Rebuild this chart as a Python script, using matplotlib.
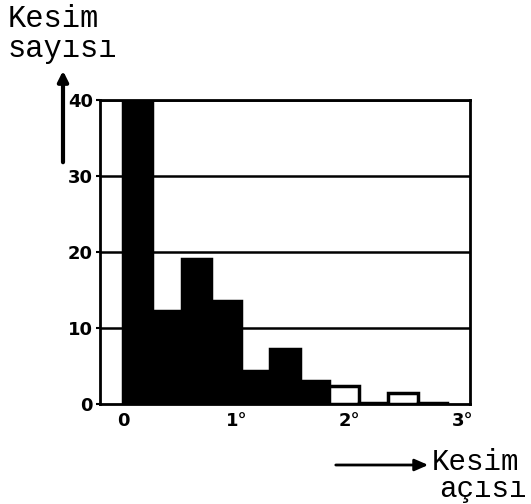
import matplotlib
matplotlib.use("Agg")
import matplotlib.pyplot as plt

# Data
bin_left = [0.0, 0.26, 0.52, 0.78, 1.04, 1.30, 1.56, 1.82, 2.08, 2.34, 2.60]
bin_width = 0.26
counts = [40, 12.3, 19.1, 13.6, 4.4, 7.3, 3.0, 2.4, 0.1, 1.5, 0.1]
hollow = [False, False, False, False, False, False, False, True, False, True, False]
y_ticks = [0, 10, 20, 30, 40]
y_labels = ["0", "10", "20", "30", "40"]
x_ticks = [0, 1, 2, 3]
x_labels = ["0", "1°", "2°", "3°"]

fig = plt.figure(figsize=(5.31, 5.04), dpi=100)
ax = fig.add_axes([100/531, 1-404/504, 370/531, 304/504])

for x, h, hol in zip(bin_left, counts, hollow):
    ax.bar(x, h, width=bin_width, align='edge',
           color='white' if hol else 'black', edgecolor='black',
           linewidth=2.5, zorder=3)

for y in y_ticks[1:]:
    ax.axhline(y, color='black', lw=1.8, zorder=1)

ax.set_xlim(-0.203, 3.063)
ax.set_ylim(0, 40)
for s in ax.spines.values():
    s.set_linewidth(2)
ax.set_yticks(y_ticks)
ax.set_yticklabels(y_labels)
ax.set_xticks(x_ticks)
ax.set_xticklabels(x_labels)
for lab in ax.get_yticklabels() + ax.get_xticklabels():
    lab.set_fontfamily(['Liberation Sans Narrow', 'DejaVu Sans'])
    lab.set_fontweight('bold')
    lab.set_fontsize(13)
ax.tick_params(axis='y', length=3, width=1.5, pad=2)
ax.tick_params(axis='x', length=0, width=1.5, pad=6)

mono = ['Liberation Mono', 'DejaVu Sans Mono']
fig.text(8/531, 1-27/504, "Kesim", family=mono, fontsize=22, ha='left', va='baseline')
fig.text(8/531, 1-57/504, "sayısı", family=mono, fontsize=22, ha='left', va='baseline')
fig.text(432/531, 1-470/504, "Kesim", family=mono, fontsize=21, ha='left', va='baseline')
fig.text(439/531, 1-497/504, "açısı", family=mono, fontsize=21, ha='left', va='baseline')

# arrows
fig.add_artist(matplotlib.patches.FancyArrowPatch(
    (63/531, 1-165/504), (63/531, 1-68/504), transform=fig.transFigure,
    arrowstyle='-|>,head_length=6,head_width=3', color='black', lw=3))
fig.add_artist(matplotlib.patches.FancyArrowPatch(
    (333/531, 1-465/504), (431/531, 1-465/504), transform=fig.transFigure,
    arrowstyle='-|>,head_length=8,head_width=3.5', color='black', lw=2))

fig.savefig("out.png", dpi=100)
